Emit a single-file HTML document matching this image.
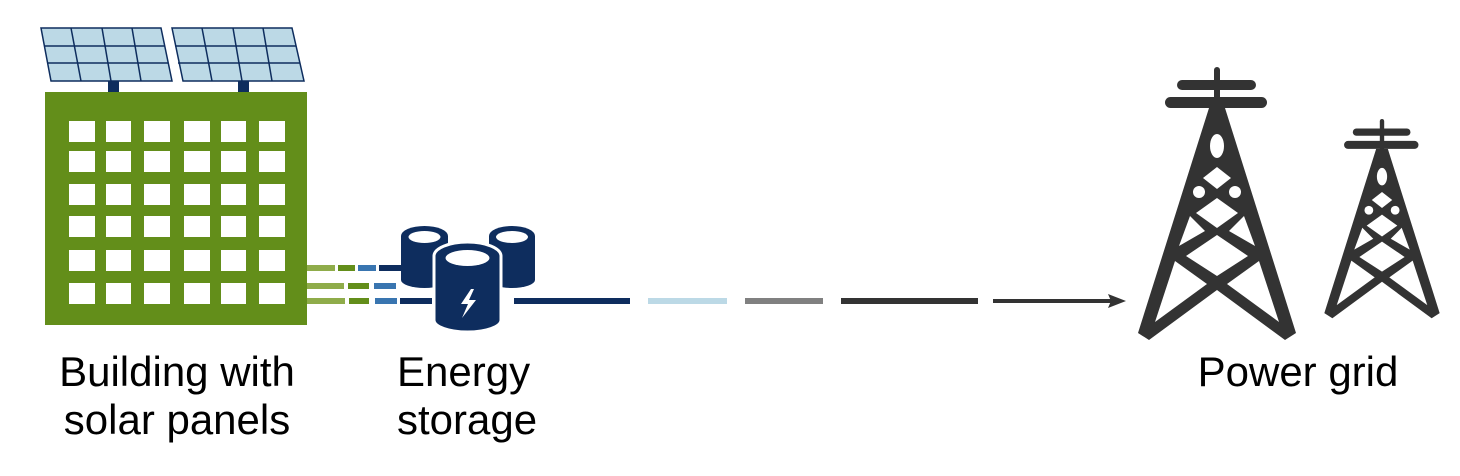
<!DOCTYPE html>
<html><head><style>
html,body{margin:0;padding:0;background:#fff;}
svg{display:block;}
text{font-family:"Liberation Sans",sans-serif;font-size:42px;fill:#000;}
</style></head><body>
<svg width="1460" height="476" viewBox="0 0 1460 476" xmlns="http://www.w3.org/2000/svg">
<!-- panels -->
<g stroke="#0e2d5e" stroke-width="1.5" fill="#bcd9e6">
<polygon points="41,28 161,28 172,81 51,81"/>
<polygon points="172,28 292,28 304,81 183,81"/>
</g>
<g stroke="#0e2d5e" stroke-width="1.5">
<line x1="44" y1="46" x2="165" y2="46"/><line x1="47" y1="63" x2="168" y2="63"/>
<line x1="71" y1="28" x2="81" y2="81"/><line x1="102" y1="28" x2="111" y2="81"/><line x1="132" y1="28" x2="141" y2="81"/>
<line x1="175" y1="46" x2="296" y2="46"/><line x1="178" y1="63" x2="300" y2="63"/>
<line x1="202" y1="28" x2="212" y2="81"/><line x1="233" y1="28" x2="242" y2="81"/><line x1="263" y1="28" x2="272" y2="81"/>
</g>
<rect x="108" y="81" width="11" height="11" fill="#0e2d5e"/>
<rect x="238" y="81" width="11" height="11" fill="#0e2d5e"/>
<!-- building -->
<rect x="45" y="92" width="262" height="233" fill="#638e1a"/>
<g fill="#fff">
<g id="row">
<rect x="69" y="121" width="26" height="21"/><rect x="106" y="121" width="25" height="21"/><rect x="144" y="121" width="26" height="21"/>
<rect x="184" y="121" width="26" height="21"/><rect x="221" y="121" width="25" height="21"/><rect x="259" y="121" width="26" height="21"/>
</g>
<use href="#row" y="30"/><use href="#row" y="63"/><use href="#row" y="95"/><use href="#row" y="129"/><use href="#row" y="162"/>
</g>
<!-- dashes -->
<g stroke-width="6">
<line x1="307" y1="268" x2="335" y2="268" stroke="#8fac4a"/><line x1="338" y1="268" x2="355" y2="268" stroke="#638e1a"/><line x1="358" y1="268" x2="376" y2="268" stroke="#3975b0"/><line x1="379" y1="268" x2="402" y2="268" stroke="#0e2d5e"/>
<line x1="307" y1="286" x2="344" y2="286" stroke="#8fac4a"/><line x1="348" y1="286" x2="369" y2="286" stroke="#638e1a"/><line x1="374" y1="286" x2="396" y2="286" stroke="#3975b0"/>
<line x1="307" y1="301" x2="345" y2="301" stroke="#8fac4a"/><line x1="349" y1="301" x2="369" y2="301" stroke="#638e1a"/><line x1="375" y1="301" x2="397" y2="301" stroke="#3975b0"/><line x1="400" y1="301" x2="432" y2="301" stroke="#0e2d5e"/>
<line x1="514" y1="301" x2="630" y2="301" stroke="#0e2d5e"/>
<line x1="648" y1="301" x2="727" y2="301" stroke="#bcd9e6"/>
<line x1="745" y1="301" x2="823" y2="301" stroke="#808080"/>
<line x1="841" y1="301" x2="978" y2="301" stroke="#333"/>
<line x1="993" y1="301" x2="1112" y2="301" stroke="#333" stroke-width="4"/>
</g>
<polygon points="1126,301 1108,294 1111,301 1108,308" fill="#333"/>
<!-- cylinders -->
<g fill="#0e2d5e">
<path d="M401,236 a23.5,10 0 0 1 47,0 V280 a23.5,8 0 0 1 -47,0 Z"/>
<ellipse cx="424.5" cy="237" rx="16" ry="6" fill="#fff"/>
<path d="M489,236 a23,10 0 0 1 46,0 V280 a23,8 0 0 1 -46,0 Z"/>
<ellipse cx="512" cy="237" rx="16" ry="6" fill="#fff"/>
<path d="M434,256 a33.5,14 0 0 1 67,0 V320 a33.5,12 0 0 1 -67,0 Z" stroke="#fff" stroke-width="3"/>
<ellipse cx="467.5" cy="258" rx="22" ry="8" fill="#fff"/>
<polygon points="471,289 461,304 468,304 462,318 476,300 469,300 474,289" fill="#fff"/>
</g>
<!-- towers -->
<g id="tower" fill="#333">
<rect x="1214" y="67" width="6" height="45" rx="3"/>
<rect x="1177" y="80" width="79" height="10" rx="5"/>
<rect x="1165" y="97" width="102" height="11" rx="5.5"/>
<polygon points="1209,108 1225,108 1296,333 1285,340 1217,290 1149,340 1138,333"/>
<g fill="#fff">
<ellipse cx="1217" cy="146" rx="7" ry="12"/>
<polygon points="1217,167 1231,178 1217,189 1203,178"/>
<circle cx="1199" cy="192" r="6"/><circle cx="1235" cy="192" r="6"/>
<polygon points="1217,198 1238,213 1217,228 1196,213"/>
<polygon points="1190,216 1205,231 1179,246"/>
<polygon points="1244,216 1229,231 1255,246"/>
<polygon points="1217,235 1248,256 1217,276 1186,256"/>
<polygon points="1175,261 1207,284 1155,322"/>
<polygon points="1259,261 1227,284 1279,322"/>
</g>
</g>
<use href="#tower" transform="translate(1382,119) scale(0.73) translate(-1217,-67)"/>
<!-- labels -->
<text x="177" y="386" text-anchor="middle">Building with</text>
<text x="177" y="434" text-anchor="middle">solar panels</text>
<text x="397" y="386">Energy</text>
<text x="397" y="434">storage</text>
<text x="1298" y="386" text-anchor="middle">Power grid</text>
</svg>
</body></html>
